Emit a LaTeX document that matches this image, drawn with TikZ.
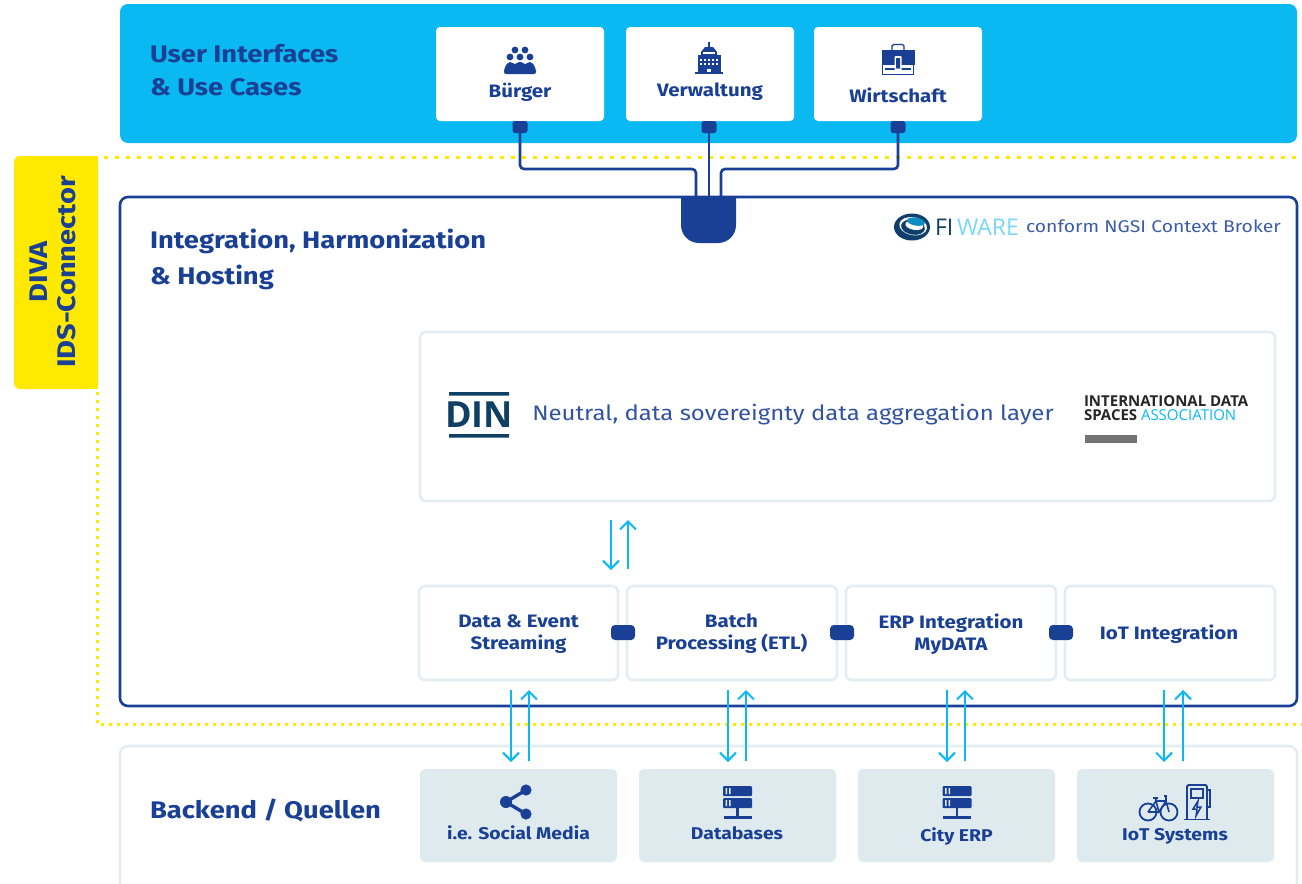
\documentclass[tikz,border=0pt]{standalone}
\usepackage{fontspec}
\setmainfont[FakeStretch=1.14]{Fira Sans}
\newfontfamily\logofont{Open Sans}
\usetikzlibrary{arrows.meta,calc}
\definecolor{skyb}{HTML}{0BB9F2}
\definecolor{navy}{HTML}{1A4095}
\definecolor{pale}{HTML}{E4EEF2}
\definecolor{srcf}{HTML}{DEEAEE}
\definecolor{yell}{HTML}{FFE900}
\definecolor{dinb}{HTML}{0F3F63}
\newcommand{\fs}[1]{\fontsize{#1}{#1}\selectfont}
\tikzset{
  x=1pt,y=-1pt,
  every node/.style={inner sep=0pt,outer sep=0pt},
  cardbox/.style={fill=white,rounded corners=4pt},
  palebox/.style={draw=pale,line width=2.6pt,fill=white,rounded corners=6pt},
  srcbox/.style={fill=srcf,rounded corners=5pt},
  head/.style={font=\fs{24}\bfseries,text=navy,align=left,anchor=west},
  lab/.style={font=\fs{18}\bfseries,text=navy,align=center},
  tabbox/.style={fill=navy,rounded corners=2.5pt},
  pill/.style={fill=navy,rounded corners=4pt},
  wire/.style={draw=navy,line width=2.6pt,rounded corners=4pt},
  dataarrow/.style={draw=skyb,line width=2pt,-{Straight Barb[length=8pt,width=16pt,line width=2pt]}},
  dotline/.style={draw=yell,line width=3pt,dash pattern=on 4pt off 7pt},
  dotlineb/.style={draw=yell,line width=3pt,dash pattern=on 3pt off 5pt},
}
\newcommand{\server}[2]{%
  \fill[navy,rounded corners=1pt] (#1-14.5,#2-15) rectangle (#1+14.5,#2-5);
  \fill[navy,rounded corners=1pt] (#1-14.5,#2-3) rectangle (#1+14.5,#2+7);
  \fill[srcf] (#1-12,#2-13) rectangle (#1-10.5,#2-7) (#1-8.5,#2-13) rectangle (#1-7,#2-7);
  \fill[srcf] (#1-12,#2-1) rectangle (#1-10.5,#2+5) (#1-8.5,#2-1) rectangle (#1-7,#2+5);
  \fill[navy] (#1-1.2,#2+7) rectangle (#1+1.2,#2+15);
  \fill[navy] (#1-14,#2+15) rectangle (#1+14,#2+18);
}
\begin{document}
\begin{tikzpicture}
\useasboundingbox (0,0) rectangle (1302,884);
\fill[white] (0,0) rectangle (1302,884);

% dotted IDS frame
\coordinate (dotA) at (104,157); \coordinate (dotB) at (1302,157);
\coordinate (dotC) at (97,392); \coordinate (dotD) at (97,724); \coordinate (dotE) at (1302,724);
\draw[dotline] (dotA) -- (dotB);
\draw[dotlineb] (dotC) -- (dotD) -- (dotE);

% top band
\node[fill=skyb,rounded corners=8pt,minimum width=1177pt,minimum height=139pt] (top) at (708.5,73.5) {};
\node[head] (hTop) at (150,70.5) {User Interfaces\\[9pt]\& Use Cases};

\node[cardbox,minimum width=168pt,minimum height=94pt] (c1) at (520,74) {};
\node[cardbox,minimum width=168pt,minimum height=94pt] (c2) at (710,74) {};
\node[cardbox,minimum width=168pt,minimum height=94pt] (c3) at (898,74) {};
\node[lab] (l1) at (520,92) {Bürger};
\node[lab] (l2) at (710,92) {Verwaltung};
\node[lab] (l3) at (898,95) {Wirtschaft};

% people icon
\begin{scope}[shift={(520,60)}]
  \fill[navy] (-5,-10) circle (3.4) (5,-10) circle (3.4);
  \fill[navy] (-10,-3) circle (3.4) (0,-3) circle (3.4) (10,-3) circle (3.4);
  \fill[navy,rounded corners=2pt] (-16,14) -- (-16,9) -- (-12,2) -- (-8,2) -- (-5,5) -- (-3,2) -- (3,2) -- (5,5) -- (8,2) -- (12,2) -- (16,9) -- (16,14) -- cycle;
\end{scope}
% building icon
\begin{scope}[shift={(709,58)}]
  \fill[navy] (-11.5,-3) rectangle (11.5,14);
  \fill[navy] (-8,-3) -- (8,-3) -- (8,-6) -- (4,-11) -- (-4,-11) -- (-8,-6) -- cycle;
  \fill[navy] (-1.2,-16) rectangle (1.2,-10);
  \fill[navy] (-14,14) rectangle (14,15.5);
  \foreach \u in {-8,-4,0,4,8}{ \foreach \v in {1,5}{ \fill[white] (\u-.9,\v) rectangle (\u+.9,\v+2.4); } }
  \fill[white] (-6,-6) rectangle (6,-4.5);
  \fill[white] (-2,10.5) rectangle (2,14);
\end{scope}
% briefcase icon
\begin{scope}[shift={(898,60)}]
  \draw[navy,line width=1.4pt,rounded corners=1.5pt] (-6,-9) -- (-6,-15.5) -- (6,-15.5) -- (6,-9);
  \fill[navy] (-16.5,-10) rectangle (16.5,5);
  \draw[navy,line width=1.5pt] (-15.5,3) -- (-15.5,14.5) -- (15.5,14.5) -- (15.5,3);
  \draw[navy,line width=1.2pt] (-13,9) -- (13,9);
  \fill[white,rounded corners=1pt] (-3.5,-4) rectangle (3.5,10.5);
  \fill[navy,rounded corners=.5pt] (-2,-2) rectangle (2,8.5);
\end{scope}

% main box
\node[draw=navy,line width=2.6pt,fill=white,rounded corners=8pt,minimum width=1177pt,minimum height=509pt] (main) at (708.5,451.5) {};
\node[head] (hMain) at (150,259.5) {Integration, Harmonization\\[10pt]\& Hosting};

% tabs and plug
\node[tabbox,minimum width=15pt,minimum height=12pt] (t1) at (520,127) {};
\node[tabbox,minimum width=15pt,minimum height=12pt] (t2) at (709,127) {};
\node[tabbox,minimum width=15pt,minimum height=12pt] (t3) at (898,127) {};
\fill[navy] (681,197) -- (736,197) -- (736,225) arc[start angle=0,end angle=90,radius=18] -- (699,243) arc[start angle=90,end angle=180,radius=18] -- cycle;
\coordinate (plug) at (708.5,197);
\draw[wire] (t1.south) -- (520,169) -- (696,169) -- (696,197);
\draw[navy,line width=2.6pt] (t2.south) -- (709,197);
\draw[wire] (t3.south) -- (898,169) -- (721,169) -- (721,197);

% FIWARE
\begin{scope}[shift={(912,227)}]
  \fill[dinb!85!navy] (0,0) ellipse (18 and 13.5);
  \fill[white,rotate=-10] (1,-1) ellipse (14 and 9);
  \fill[dinb!85!navy,rotate=-10] (1,0) ellipse (12 and 7.5);
  \fill[white,rotate=-10] (2,-2) ellipse (9 and 4.5);
  \fill[skyb!65!dinb,rotate=-10] (3,-6) ellipse (9 and 4);
\end{scope}
\node[font=\fs{23},text=dinb,anchor=west] (fi) at (935,227.5) {\logofont FI};
\node[font=\fs{23},text=skyb!55!white,anchor=west] (ware) at (957,227.5) {\logofont WARE};
\node[font=\fs{17},text=navy!85!white,anchor=west] (conf) at (1026,226.5) {conform NGSI Context Broker};

% aggregation layer
\node[palebox,minimum width=855pt,minimum height=169pt] (agg) at (847.5,416.5) {};
\node[font=\fs{21},text=navy!90!white] (neutral) at (793,415) {Neutral, data sovereignty data aggregation layer};
\fill[dinb] (449,392) rectangle (509,395.5) (449,434) rectangle (509,437.5);
\node[font=\fs{36}\bfseries,text=dinb,anchor=center] (din) at (479,414.5) {\logofont DIN};
\node[font=\fs{15}\bfseries,text=black!85,anchor=west] (ids1) at (1084,401.5) {\logofont INTERNATIONAL DATA};
\node[font=\fs{15}\bfseries,text=black!85,anchor=west] (ids2) at (1084,415) {\logofont SPACES};
\node[font=\fs{15},text=skyb,anchor=west] (ids3) at (1141,415) {\logofont ASSOCIATION};
\fill[black!55] (1085,435) rectangle (1137,443);

% integration boxes
\node[palebox,minimum width=199pt,minimum height=94pt] (b1) at (518.5,633) {};
\node[palebox,minimum width=210pt,minimum height=94pt] (b2) at (732,633) {};
\node[palebox,minimum width=210pt,minimum height=94pt] (b3) at (951,633) {};
\node[palebox,minimum width=210pt,minimum height=94pt] (b4) at (1170,633) {};
\node[lab] (bl1) at (518.5,634) {Data \& Event\\[4pt]Streaming};
\node[lab] (bl2) at (731.5,634) {Batch\\[4pt]Processing (ETL)};
\node[lab] (bl3) at (951,634) {ERP Integration\\[4pt]MyDATA};
\node[lab] (bl4) at (1169,634) {IoT Integration};
\node[pill,minimum width=24pt,minimum height=15pt] (p1) at (623,632.5) {};
\node[pill,minimum width=24pt,minimum height=15pt] (p2) at (842,632.5) {};
\node[pill,minimum width=24pt,minimum height=15pt] (p3) at (1061,632.5) {};

% backend
\draw[draw=pale,line width=2.6pt,rounded corners=8pt,fill=white] (120,890) -- (120,746) -- (1297,746) -- (1297,890);
\node[head] (hBack) at (150,810) {Backend / Quellen};
\node[srcbox,minimum width=197pt,minimum height=93pt] (s1) at (518.5,815.5) {};
\node[srcbox,minimum width=197pt,minimum height=93pt] (s2) at (737.5,815.5) {};
\node[srcbox,minimum width=197pt,minimum height=93pt] (s3) at (956.5,815.5) {};
\node[srcbox,minimum width=197pt,minimum height=93pt] (s4) at (1175.5,815.5) {};
\node[lab,font=\fs{17}\bfseries] (sl1) at (518.5,833) {i.e. Social Media};
\node[lab,font=\fs{17}\bfseries] (sl2) at (737,833) {Databases};
\node[lab,font=\fs{17}\bfseries] (sl3) at (956.5,836) {City ERP};
\node[lab,font=\fs{17}\bfseries] (sl4) at (1175,836) {IoT Systems};

% share icon
\draw[navy,line width=3.4pt] (526,790) -- (506,802) -- (526,814);
\fill[navy] (526,790) circle (5.6) (506,802) circle (6) (526,814) circle (5.6);
\server{737.5}{801}
\server{957}{801}
% bike and charger
\begin{scope}[shift={(1159,807)}]
  \draw[navy,line width=1.8pt] (-11,5) circle (8.5) (10,5) circle (8.5);
  \draw[navy,line width=1.6pt] (-11,5) -- (-3,-6) -- (7,-6) -- (10,5) (-3,-6) -- (0,5) -- (7,-6) (-11,5) -- (0,5) (-6,-9) -- (-1,-9) (-3,-9) -- (-3,-6) (5,-11) -- (7,-11) -- (7,-6);
\end{scope}
\begin{scope}[shift={(1197,801)}]
  \draw[navy,line width=1.9pt,rounded corners=1.5pt] (-10,18) -- (-10,-16) -- (10,-16) -- (10,18);
  \draw[navy,line width=1.9pt] (-13,18.5) -- (13,18.5);
  \draw[navy,line width=1.6pt] (-6,-12) rectangle (6,-3);
  \draw[navy,line width=1.5pt] (1,0) -- (-4,8) -- (0,8) -- (-1,15) -- (4,6) -- (0,6) -- cycle;
  \draw[navy,line width=1.6pt] (10,-11) -- (13,-11) -- (13,6) -- (10,6);
\end{scope}

% data arrows
\coordinate (a0d) at (611,520); \coordinate (a0e) at (611,570);
\coordinate (a0u) at (628,569); \coordinate (a0v) at (628,520);
\draw[dataarrow] (a0d) -- (a0e);
\draw[dataarrow] (a0u) -- (a0v);
\foreach \n/\xd/\xu in {1/511/529, 2/728/746, 3/947/965, 4/1164/1183}{
  \coordinate (d\n) at (\xd,690); \coordinate (e\n) at (\xd,762);
  \coordinate (u\n) at (\xu,761); \coordinate (v\n) at (\xu,690);
  \draw[dataarrow] (d\n) -- (e\n);
  \draw[dataarrow] (u\n) -- (v\n);
}

% yellow tab
\fill[yell,rounded corners=6pt] (98,156) -- (14,156) -- (14,389) -- (98,389) -- cycle;
\fill[yell] (90,156) rectangle (98,389);
\node[font=\fs{25.5}\bfseries,text=navy,align=center,rotate=90] (tabtxt) at (53,272) {DIVA\\[3pt]IDS-Connector};
\end{tikzpicture}
\end{document}
